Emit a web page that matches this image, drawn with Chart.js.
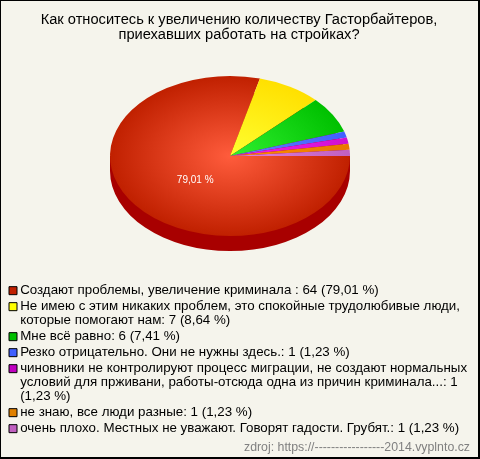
<!DOCTYPE html>
<html><head><meta charset="utf-8">
<script src="https://cdn.jsdelivr.net/npm/chart.js@4"></script>
<style>
html,body{margin:0;padding:0;background:#f5f4ec}
#box{position:relative;width:480px;height:459px;box-sizing:border-box;border:1px solid #000;border-bottom-width:2px;border-right-width:2px;background:#f5f4ec;overflow:hidden}
canvas{position:absolute;left:-1px;top:-1px}
</style></head><body>
<div id="box"><canvas id="c" width="480" height="459"></canvas></div>
<script>
const titleLines = ["Как относитесь к увеличению количеству Гасторбайтеров,", "приехавших работать на стройках?"];
const footer = "zdroj: https://-----------------2014.vyplnto.cz";
const categories = [
  ["Создают проблемы, увеличение криминала : 64 (79,01 %)"],
  ["Не имею с этим никаких проблем, это спокойные трудолюбивые люди,", "которые помогают нам: 7 (8,64 %)"],
  ["Мне всё равно: 6 (7,41 %)"],
  ["Резко отрицательно. Они не нужны здесь.: 1 (1,23 %)"],
  ["чиновники не контролируют процесс миграции, не создают нормальных", "условий для прживани, работы-отсюда одна из причин криминала...: 1", "(1,23 %)"],
  ["не знаю, все люди разные: 1 (1,23 %)"],
  ["очень плохо. Местных не уважают. Говорят гадости. Грубят.: 1 (1,23 %)"]
];
const values = [64, 7, 6, 1, 1, 1, 1];
const legendColors = ["#c02000", "#ffff00", "#00c000", "#4060ff", "#c000c0", "#e08000", "#c060c0"];
const innerColors = ["#ff5c3c", "#ffff30", "#30f030", "#6080ff", "#f020f0", "#ff9000", "#e080e0"];
const outerColors = ["#c02000", "#ffe000", "#00c000", "#4060ff", "#d010d0", "#e87800", "#c060c0"];
const sliceLabel = "79,01 %";

const CX = 230, CY = 156, RX = 120, RY = 80, DEPTH = 15, SIDE = "#a80000", LEGEND_LEFT = 10.5, LEGEND_TOP = 282;

function squash(ctx, arc) {
  ctx.translate(CX, CY);
  ctx.scale(1, RY / RX);
  ctx.translate(-arc.x, -arc.y);
}
const pie3d = {
  id: "pie3d",
  afterLayout(chart) {
    const legend = chart.legend;
    legend.left = LEGEND_LEFT;
    legend.top = LEGEND_TOP;
    legend.bottom = chart.height + LEGEND_TOP;
    if (!legend.unclipped) {
      // the legend clips to its own left edge, which would cut the boxes
      const drawItems = legend._draw;
      legend._draw = function () {
        chart.ctx.restore();
        drawItems.call(this);
        chart.ctx.save();
      };
      legend.unclipped = true;
    }
  },
  beforeDatasetsDraw(chart) {
    const ctx = chart.ctx, arcs = chart.getDatasetMeta(0).data;
    ctx.save();
    ctx.fillStyle = SIDE;
    arcs.forEach(a => {
      ctx.save();
      ctx.translate(0, DEPTH);
      squash(ctx, a);
      ctx.beginPath();
      ctx.moveTo(a.x, a.y);
      ctx.arc(a.x, a.y, a.outerRadius, a.startAngle, a.endAngle);
      ctx.closePath();
      ctx.fill();
      ctx.restore();
    });
    const a0 = arcs[0];
    ctx.fillRect(CX - a0.outerRadius, CY, a0.outerRadius * 2, DEPTH);
    ctx.restore();
  },
  beforeDatasetDraw(chart) {
    const a = chart.getDatasetMeta(0).data[0];
    chart.ctx.save();
    squash(chart.ctx, a);
  },
  afterDatasetDraw(chart) {
    chart.ctx.restore();
  },
  afterDatasetsDraw(chart) {
    const ctx = chart.ctx;
    ctx.save();
    ctx.fillStyle = "#fff";
    ctx.font = "10px 'Liberation Sans'";
    ctx.textAlign = "center";
    ctx.textBaseline = "middle";
    ctx.fillText(sliceLabel, CX - RX * 0.29, CY + RY * 0.3);
    ctx.restore();
  }
};
function sliceFill(c) {
  const area = c.chart.chartArea;
  if (!area) return legendColors[c.dataIndex];
  const x = (area.left + area.right) / 2, y = (area.top + area.bottom) / 2;
  const g = c.chart.ctx.createRadialGradient(x, y, 0, x, y, RX);
  g.addColorStop(0, innerColors[c.dataIndex]);
  g.addColorStop(1, outerColors[c.dataIndex]);
  return g;
}
new Chart(document.getElementById("c"), {
  type: "pie",
  data: { labels: categories, datasets: [{ data: values, backgroundColor: sliceFill, borderWidth: 0, radius: RX, rotation: 90 }] },
  plugins: [pie3d],
  options: {
    responsive: false,
    animation: false,
    layout: { padding: { left: 8, right: 10, top: 0, bottom: 0 } },
    plugins: {
      tooltip: { enabled: false },
      title: { display: true, text: titleLines, color: "#000", font: { family: "'Liberation Sans'", size: 14.67, weight: "normal", lineHeight: "15px" }, padding: { top: 12, bottom: 10 } },
      subtitle: { display: true, position: "bottom", align: "end", text: footer, color: "#808080", font: { family: "'Liberation Sans'", size: 12.33, weight: "normal" }, padding: { top: 2, bottom: 4 } },
      legend: {
        position: "chartArea",
        align: "start",
        labels: {
          color: "#000",
          font: { family: "'Liberation Sans'", size: 13.33, lineHeight: "14px" },
          padding: 2,
          boxWidth: 1,
          boxHeight: 8,
          usePointStyle: true,
          pointStyle: "rect",
          generateLabels: () => categories.map((t, i) => ({ text: t, fillStyle: legendColors[i], strokeStyle: "#000", lineWidth: 1, pointStyle: "rect", index: i }))
        }
      }
    }
  }
});
</script>
</body></html>
